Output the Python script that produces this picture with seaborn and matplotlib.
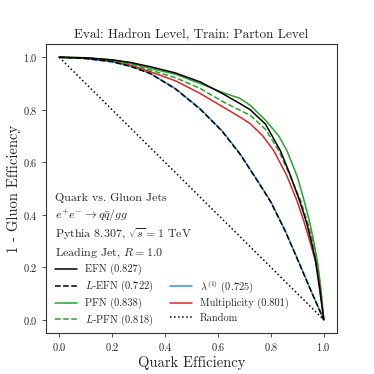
import numpy as np
import pandas as pd
import matplotlib
matplotlib.use("Agg")
import matplotlib.pyplot as plt
import seaborn as sns
from matplotlib.lines import Line2D

sns.set_theme(style="ticks")
plt.rcParams['font.family'] = ['cmr10', 'DejaVu Serif']
plt.rcParams['mathtext.fontset'] = 'cm'
plt.rcParams['axes.formatter.use_mathtext'] = True

title = "Eval: Hadron Level, Train: Parton Level"

efn_x = [0.0, 0.1, 0.2, 0.27, 0.344, 0.44, 0.533, 0.62, 0.684, 0.722, 0.78, 0.836, 0.87, 0.909, 0.935, 0.955, 0.97, 0.985, 1.0]
efn_y = [1.0, 0.998, 0.99, 0.98, 0.964, 0.94, 0.906, 0.86, 0.823, 0.80, 0.745, 0.644, 0.56, 0.453, 0.37, 0.29, 0.22, 0.12, 0.0]

pfn_x = [0.0, 0.1, 0.2, 0.27, 0.344, 0.44, 0.533, 0.62, 0.684, 0.722, 0.78, 0.83, 0.861, 0.9, 0.924, 0.945, 0.962, 0.978, 0.99, 1.0]
pfn_y = [1.0, 0.998, 0.99, 0.978, 0.958, 0.935, 0.90, 0.865, 0.843, 0.817, 0.76, 0.70, 0.644, 0.545, 0.46, 0.38, 0.30, 0.21, 0.11, 0.0]

lpfn_x = [0.0, 0.1, 0.2, 0.27, 0.344, 0.44, 0.533, 0.62, 0.684, 0.722, 0.78, 0.83, 0.872, 0.913, 0.942, 0.963, 0.978, 0.99, 1.0]
lpfn_y = [1.0, 0.997, 0.988, 0.975, 0.951, 0.922, 0.881, 0.83, 0.798, 0.779, 0.725, 0.644, 0.55, 0.453, 0.36, 0.28, 0.20, 0.10, 0.0]

mult_x = [0.0, 0.1, 0.2, 0.27, 0.344, 0.44, 0.533, 0.62, 0.684, 0.722, 0.77, 0.811, 0.86, 0.899, 0.925, 0.95, 0.969, 0.985, 1.0]
mult_y = [1.0, 0.996, 0.986, 0.97, 0.945, 0.91, 0.862, 0.81, 0.772, 0.747, 0.70, 0.644, 0.55, 0.453, 0.375, 0.29, 0.222, 0.11, 0.0]

lam_x = [0.0, 0.1, 0.2, 0.27, 0.344, 0.44, 0.533, 0.615, 0.684, 0.75, 0.80, 0.855, 0.905, 0.95, 1.0]
lam_y = [1.0, 0.995, 0.983, 0.966, 0.939, 0.88, 0.804, 0.721, 0.632, 0.53, 0.45, 0.338, 0.222, 0.115, 0.0]

lefn_x = [0.0, 0.1, 0.2, 0.27, 0.344, 0.44, 0.533, 0.615, 0.684, 0.75, 0.80, 0.855, 0.905, 0.95, 1.0]
lefn_y = [1.0, 0.995, 0.983, 0.965, 0.938, 0.879, 0.802, 0.719, 0.630, 0.528, 0.448, 0.336, 0.220, 0.114, 0.0]

rand_x = [0.0, 1.0]
rand_y = [1.0, 0.0]

labels = ["EFN (0.827)", "$L$-EFN (0.722)", "PFN (0.838)", "$L$-PFN (0.818)",
          r"$\lambda^{(1)}$ (0.725)", "Multiplicity (0.801)", "Random"]

info_lines = ["Quark vs. Gluon Jets", r"$e^{+}e^{-} \to q\bar{q}/gg$",
              r"Pythia 8.307, $\sqrt{s} = 1$ TeV", r"Leading Jet, $R = 1.0$"]

GREEN = "#2ca02c"
RED = "#d62728"
BLUE = "#3a8fd0"

fig = plt.figure(figsize=(3.74, 3.74), dpi=100)
ax = fig.add_axes([0.123, 0.110, 0.778, 0.772])

series = [
    (lam_x, lam_y, BLUE, "-", labels[4]),
    (mult_x, mult_y, RED, "-", labels[5]),
    (lpfn_x, lpfn_y, GREEN, "--", labels[3]),
    (pfn_x, pfn_y, GREEN, "-", labels[2]),
    (efn_x, efn_y, "black", "-", labels[0]),
    (lefn_x, lefn_y, "black", "--", labels[1]),
    (rand_x, rand_y, "black", ":", labels[6]),
]
handles = {}
for xs, ys, c, ls, lab in series:
    df = pd.DataFrame({"x": xs, "y": ys})
    sns.lineplot(data=df, x="x", y="y", ax=ax, color=c, linestyle=ls, lw=1.1,
                 sort=False, estimator=None)
    handles[lab] = Line2D([], [], color=c, linestyle=ls, lw=1.1)

ax.set_xlim(-0.05, 1.05)
ax.set_ylim(-0.05, 1.05)
ax.set_xticks([0, 0.2, 0.4, 0.6, 0.8, 1.0])
ax.set_yticks([0, 0.2, 0.4, 0.6, 0.8, 1.0])
ax.tick_params(labelsize=7.4, length=3, width=0.6, colors="#333333", labelcolor="#222222", pad=3)
for s in ax.spines.values():
    s.set_linewidth(0.8)
    s.set_color("#333333")
ax.set_xlabel("Quark Efficiency", fontsize=10.5, labelpad=2)
ax.set_ylabel("1 - Gluon Efficiency", fontsize=10.5)
ax.yaxis.set_label_coords(-0.085, 0.5)
ax.set_title(title, fontsize=9.5, pad=4)

for i, t in enumerate(info_lines):
    ax.text(-0.016, 0.452 - i * 0.07, t, fontsize=8.6, transform=ax.transData,
            ha="left", va="baseline")

blank = Line2D([], [], color="none")
order = [labels[0], labels[1], labels[2], labels[3], None, labels[4], labels[5], labels[6]]
hs = [handles[l] if l else blank for l in order]
ls_ = [l if l else "" for l in order]
ax.legend(hs, ls_, ncol=2, loc="lower left", bbox_to_anchor=(0.031, 0.016),
          fontsize=7.5, frameon=False, handlelength=2.1, columnspacing=1.6,
          labelspacing=0.35, borderaxespad=0.0, borderpad=0.0, handletextpad=0.77)

fig.savefig("out.png", dpi=100)
